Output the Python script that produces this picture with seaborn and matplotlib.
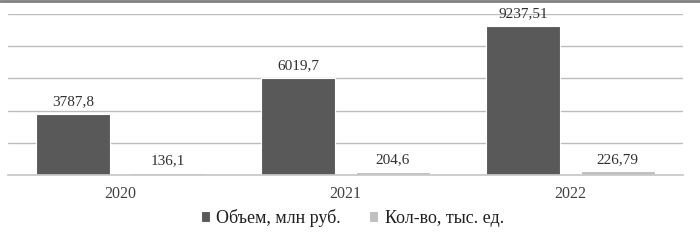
import pandas as pd
import matplotlib.pyplot as plt
import seaborn as sns

years = ['2020', '2021', '2022']
volume = [3787.8, 6019.7, 9237.51]
count = [136.1, 204.6, 226.79]
volume_labels = ['3787,8', '6019,7', '9237,51']
count_labels = ['136,1', '204,6', '226,79']
series = ['Объем, млн руб.', 'Кол-во, тыс. ед.']

data = pd.DataFrame({
    'year': years * 2,
    'value': volume + count,
    'series': [series[0]] * 3 + [series[1]] * 3,
})

sns.set_theme(style='white')
plt.rcParams['font.family'] = ['Liberation Serif', 'DejaVu Serif']

fig = plt.figure(figsize=(7, 2.4), dpi=100)
ax = fig.add_axes([0.0114, 0.271, 0.9643, 0.671])

sns.barplot(data=data, x='year', y='value', hue='series',
            palette=['#595959', '#bfbfbf'], width=0.836, gap=0.213,
            edgecolor='white', linewidth=0.8, ax=ax, legend=True)

ax.set_ylim(0, 10000)
ax.set_yticks(range(0, 10001, 2000))
ax.yaxis.grid(True, color='#bdbdbd', linewidth=1.0)
ax.set_axisbelow(True)
ax.set_yticklabels([])
ax.tick_params(axis='y', length=0)
ax.tick_params(axis='x', length=0, labelsize=11.5, colors='#404040', pad=8)
ax.set_xlabel('')
ax.set_ylabel('')
for side in ['top', 'left', 'right']:
    ax.spines[side].set_visible(False)
ax.spines['bottom'].set_color('#c8c8c8')

for container, labels in zip(ax.containers, [volume_labels, count_labels]):
    ax.bar_label(container, labels=labels, padding=4, fontsize=11, color='#303030')

handles, labs = ax.get_legend_handles_labels()
ax.legend(handles, labs, loc='center', bbox_to_anchor=(0.51, -0.267),
          ncol=2, frameon=False, fontsize=13, handlelength=0.5, handleheight=0.5,
          handletextpad=0.35, columnspacing=1.6, labelcolor='#202020')

fig.add_artist(plt.Line2D([0, 1], [0.996, 0.996], color='#808080', linewidth=2,
                          transform=fig.transFigure))

fig.savefig('out.png', dpi=100)
